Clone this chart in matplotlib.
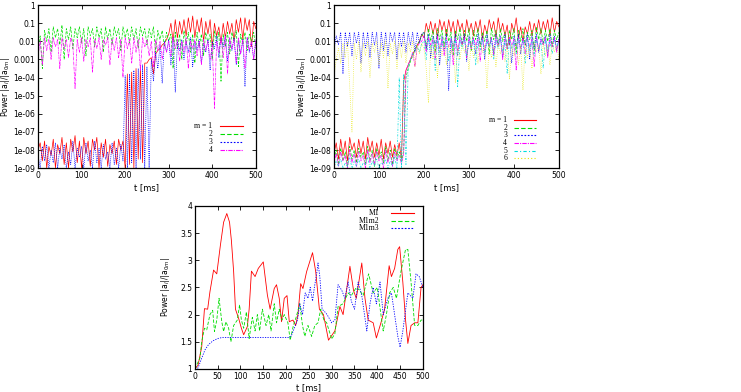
# power of modes vs time - three panels
import numpy as np
import matplotlib
matplotlib.use('Agg')
import matplotlib.pyplot as plt

# time axis (ms) for the log panels, one sample every 5 ms
t_log = np.arange(0, 505, 5)

# left panel, log10 of power for m = 1..4
left_m1 = [-8.0,-7.6,-8.6,-7.5,-9.0,-7.8,-8.3,-7.4,-9.0,-7.7,-8.2,-7.3,-8.8,-7.6,-9.0,-7.4,-8.1,-7.2,-8.7,-7.5,
           -9.0,-7.3,-8.2,-7.5,-8.9,-7.4,-8.0,-7.3,-9.0,-7.6,-8.4,-7.4,-8.9,-7.7,-8.2,-7.5,-8.8,-7.4,-8.0,-7.5,
           -9.0,-3.8,-8.8,-3.7,-9.0,-3.5,-8.5,-3.4,-8.7,-3.2,-3.2,-3.0,-2.9,-3.8,-2.7,-2.5,-2.4,-2.2,-2.1,-1.9,
           -1.6,-1.0,-2.0,-0.8,-1.8,-0.9,-1.6,-0.8,-1.7,-0.7,-1.5,-0.6,-1.8,-0.8,-1.5,-0.7,-2.0,-0.9,-1.6,-0.8,
           -2.3,-1.0,-1.7,-1.2,-2.1,-1.0,-1.8,-0.9,-1.6,-1.0,-2.0,-0.8,-1.5,-0.7,-1.9,-0.7,-1.4,-0.8,-2.3,-0.9,-1.3]
left_m2 = [-2.5,-1.7,-3.5,-1.4,-2.0,-1.3,-2.6,-1.2,-1.8,-1.3,-2.2,-1.1,-3.0,-1.3,-1.9,-1.2,-2.4,-1.3,-1.8,-1.2,
           -2.1,-1.3,-2.8,-1.2,-1.7,-1.3,-2.3,-1.2,-1.8,-1.3,-2.6,-1.2,-1.9,-1.3,-2.2,-1.2,-1.7,-1.3,-2.5,-1.2,
           -1.8,-1.3,-2.1,-1.2,-1.9,-1.3,-2.4,-1.2,-1.7,-1.3,-2.2,-1.3,-1.8,-1.2,-2.6,-1.4,-1.9,-1.4,-2.3,-1.5,
           -2.0,-1.6,-3.5,-1.5,-2.4,-1.6,-3.0,-1.4,-2.2,-1.5,-2.6,-1.6,-3.2,-1.5,-2.3,-1.6,-2.8,-1.5,-2.1,-1.6,
           -3.0,-1.4,-2.0,-1.5,-4.2,-1.6,-2.3,-1.5,-2.7,-1.5,-2.0,-1.4,-3.4,-1.6,-2.2,-1.5,-2.5,-1.6,-2.0,-1.5,-2.4]
left_m3 = [-8.3,-9.0,-7.8,-8.6,-7.7,-9.0,-8.0,-8.7,-7.6,-9.0,-7.9,-8.5,-7.7,-9.0,-8.1,-8.8,-7.5,-9.0,-7.9,-8.4,
           -7.8,-9.0,-7.6,-8.6,-8.0,-9.0,-7.5,-8.7,-7.9,-9.0,-7.7,-8.5,-8.1,-9.0,-7.6,-8.8,-7.9,-9.0,-7.7,-8.6,
           -3.9,-9.0,-3.8,-8.7,-3.6,-9.0,-3.5,-8.5,-3.3,-9.0,-3.4,-9.0,-3.0,-4.2,-2.6,-3.5,-2.2,-4.3,-2.0,-2.6,
           -1.9,-3.3,-1.8,-4.8,-2.0,-2.5,-1.9,-3.0,-2.0,-2.6,-1.8,-3.4,-2.0,-2.5,-1.9,-3.2,-2.1,-2.6,-1.9,-3.6,
           -2.0,-2.4,-1.7,-2.9,-1.8,-2.3,-1.7,-3.1,-1.9,-2.5,-1.8,-3.3,-2.0,-2.7,-1.9,-4.5,-1.8,-2.6,-2.0,-3.0,-1.9]
left_m4 = [-2.8,-2.0,-3.3,-1.8,-2.5,-1.9,-3.0,-1.8,-2.3,-1.9,-3.5,-1.8,-2.4,-1.9,-2.9,-1.8,-2.2,-4.6,-1.9,-2.6,
           -1.8,-3.1,-1.9,-2.3,-1.8,-3.7,-1.9,-2.4,-1.8,-3.0,-1.9,-2.2,-1.8,-3.3,-1.9,-2.5,-1.8,-2.9,-1.9,-4.0,
           -1.8,-2.4,-1.9,-3.2,-1.8,-2.6,-1.9,-3.6,-1.8,-2.3,-1.9,-2.8,-2.0,-3.4,-1.9,-2.5,-2.0,-3.0,-2.1,-2.6,
           -2.0,-2.8,-1.8,-2.4,-1.9,-3.1,-2.0,-2.6,-1.8,-3.5,-2.0,-2.4,-1.9,-2.8,-2.0,-3.3,-1.9,-2.5,-2.0,-3.0,
           -2.2,-5.7,-2.0,-2.6,-1.8,-2.9,-1.7,-3.8,-1.8,-2.4,-1.9,-3.2,-1.8,-2.7,-1.9,-3.5,-1.8,-2.5,-2.0,-3.0,-1.9]

# right panel, log10 of power for m = 1..6
right_m1 = [-8.2,-7.6,-8.5,-7.4,-8.3,-7.5,-8.6,-7.3,-8.0,-7.6,-8.4,-7.4,-8.2,-7.5,-8.5,-7.3,-8.1,-7.5,-8.4,-7.6,
            -8.3,-7.4,-8.5,-7.6,-8.2,-7.5,-8.4,-7.7,-8.3,-7.6,-8.5,-4.2,-3.6,-3.3,-3.0,-2.7,-2.5,-2.2,-2.0,-1.6,
            -1.8,-1.0,-1.5,-0.9,-1.6,-1.0,-1.8,-0.8,-1.4,-0.9,-1.7,-0.8,-1.5,-0.9,-1.8,-0.8,-1.4,-1.0,-1.9,-0.8,
            -1.5,-1.0,-1.7,-0.9,-1.5,-0.8,-1.9,-1.1,-1.6,-0.8,-1.4,-0.9,-1.8,-0.7,-1.5,-1.0,-1.7,-1.1,-2.2,-1.0,
            -1.5,-0.7,-1.8,-1.2,-2.0,-1.2,-1.6,-0.9,-1.7,-1.0,-1.5,-0.8,-1.6,-0.9,-1.4,-0.8,-1.7,-0.7,-1.5,-0.9,-1.2]
right_m2 = [-8.5,-8.0,-8.8,-7.9,-8.6,-8.1,-8.9,-7.8,-8.5,-8.0,-8.7,-7.9,-8.4,-8.1,-8.8,-7.8,-8.6,-8.0,-8.9,-7.9,
            -8.5,-8.1,-8.7,-7.8,-8.6,-8.0,-8.8,-7.9,-8.5,-8.1,-8.7,-8.0,-4.0,-3.5,-3.1,-2.8,-2.5,-2.2,-2.0,-1.7,
            -1.5,-2.4,-1.3,-2.0,-1.4,-2.6,-1.3,-1.9,-1.4,-2.3,-1.3,-2.0,-1.5,-2.8,-1.4,-1.9,-1.3,-2.2,-1.4,-2.0,
            -1.3,-2.5,-1.4,-1.9,-1.3,-2.3,-1.5,-2.0,-1.4,-2.7,-1.3,-1.9,-1.4,-2.2,-1.3,-2.0,-1.5,-2.4,-1.4,-1.9,
            -1.3,-2.6,-1.4,-2.0,-1.3,-2.2,-1.5,-1.9,-1.4,-2.5,-1.2,-1.9,-1.3,-2.1,-1.4,-2.0,-1.3,-2.3,-1.4,-1.9,-1.5]
right_m3 = [-2.5,-1.7,-2.2,-1.5,-3.8,-1.5,-2.3,-1.5,-2.8,-1.5,-2.1,-1.5,-3.2,-1.5,-2.4,-1.5,-2.9,-1.5,-2.2,-1.5,
            -3.5,-1.5,-2.5,-1.5,-2.8,-1.5,-2.0,-1.5,-3.0,-1.5,-2.3,-1.5,-2.6,-1.5,-2.2,-1.5,-2.6,-1.5,-2.1,-1.6,
            -1.5,-2.4,-1.6,-2.9,-1.7,-2.2,-1.6,-3.3,-1.7,-2.5,-1.6,-4.7,-1.8,-2.3,-1.6,-2.8,-1.7,-2.2,-1.6,-3.1,
            -1.7,-2.4,-1.8,-2.7,-1.6,-2.2,-1.7,-3.0,-1.6,-2.3,-1.8,-2.6,-1.6,-2.2,-1.7,-2.9,-1.6,-2.4,-1.8,-3.2,
            -1.7,-2.3,-1.6,-2.7,-1.8,-2.2,-1.6,-3.0,-1.7,-2.4,-1.6,-2.6,-1.8,-2.2,-1.7,-2.8,-1.6,-2.3,-1.7,-2.5,-1.8]
right_m4 = [-8.7,-8.2,-8.9,-8.1,-8.6,-8.3,-9.0,-8.0,-8.7,-8.2,-8.9,-8.1,-8.6,-8.3,-9.0,-8.0,-8.7,-8.2,-8.8,-8.1,
            -8.6,-8.3,-9.0,-8.0,-8.7,-8.2,-8.9,-8.1,-8.6,-8.3,-8.8,-8.2,-3.6,-3.3,-3.0,-2.6,-3.4,-2.3,-2.1,-2.0,
            -1.7,-2.6,-1.8,-2.2,-1.9,-3.0,-1.7,-2.4,-1.9,-2.8,-1.8,-2.3,-1.9,-3.3,-1.8,-2.5,-1.9,-2.2,-1.8,-2.9,
            -1.9,-2.4,-1.8,-2.2,-1.9,-3.1,-1.8,-2.5,-1.9,-2.3,-1.8,-2.8,-1.9,-2.3,-1.8,-3.0,-1.9,-2.4,-1.8,-2.2,
            -1.9,-3.6,-1.8,-2.4,-1.9,-2.7,-1.8,-2.3,-1.9,-3.4,-1.8,-2.5,-1.9,-2.2,-1.8,-2.9,-1.9,-2.3,-1.8,-2.6,-1.9]
right_m5 = [-9.0,-8.6,-8.9,-8.5,-9.0,-8.7,-8.9,-8.4,-9.0,-8.6,-8.9,-8.5,-9.0,-8.7,-8.8,-8.4,-9.0,-8.6,-8.9,-8.5,
            -9.0,-8.7,-8.8,-8.5,-9.0,-8.6,-8.9,-8.4,-9.0,-4.0,-9.0,-3.8,-8.8,-3.4,-3.0,-2.7,-2.5,-2.3,-2.6,-2.1,
            -2.0,-3.0,-1.9,-2.4,-2.0,-3.6,-1.9,-2.6,-2.0,-2.3,-1.9,-3.1,-2.0,-2.5,-1.9,-4.5,-2.0,-2.4,-1.9,-2.8,
            -2.0,-2.3,-1.9,-3.3,-2.0,-2.5,-1.9,-2.7,-2.0,-2.3,-1.9,-3.0,-2.0,-2.4,-1.9,-2.6,-2.0,-3.8,-1.9,-2.4,
            -2.0,-2.7,-1.9,-2.3,-2.0,-3.2,-1.9,-2.5,-2.0,-2.8,-1.9,-2.4,-2.0,-3.5,-1.9,-2.5,-2.0,-2.7,-1.9,-2.3,-2.0]
right_m6 = [-4.0,-3.0,-2.4,-3.2,-2.1,-2.9,-2.0,-4.5,-7.0,-2.1,-3.0,-2.0,-3.7,-2.1,-2.8,-2.0,-4.0,-2.1,-2.6,-2.0,
            -3.3,-2.1,-2.9,-2.0,-4.6,-2.1,-2.7,-2.0,-3.5,-2.1,-2.9,-2.0,-3.2,-2.1,-2.6,-2.0,-3.4,-2.2,-2.7,-2.1,
            -2.4,-3.5,-5.4,-2.2,-3.0,-2.1,-4.0,-2.2,-2.8,-2.1,-3.3,-2.2,-2.7,-2.1,-4.3,-2.2,-3.0,-2.1,-2.6,-2.2,
            -3.6,-2.1,-2.9,-2.2,-3.2,-2.1,-2.6,-2.2,-4.6,-2.1,-2.9,-2.2,-3.4,-2.1,-2.7,-2.2,-3.1,-2.1,-4.1,-2.2,
            -2.8,-2.1,-3.3,-2.2,-4.7,-2.1,-2.9,-2.2,-3.5,-2.1,-2.6,-2.2,-3.8,-2.1,-2.8,-2.2,-3.3,-2.1,-2.6,-2.2,-3.0]

# bottom panel, linear power
t_M1 = [0,7,15,21,28,33,41,48,56,63,70,76,80,85,89,96,102,107,115,119,124,132,139,150,159,165,174,179,185,190,
        196,202,207,215,221,226,232,237,245,258,265,273,282,293,307,318,325,340,348,354,366,373,380,391,398,408,
        416,426,431,438,445,449,456,462,467,474,482,489,496,500]
M1 = [1.0,1.07,1.41,2.11,2.1,2.42,2.82,2.75,3.28,3.7,3.86,3.7,3.37,2.79,2.1,1.93,1.75,1.63,1.78,2.1,
      2.8,2.7,2.85,2.97,2.36,2.1,2.48,2.55,2.3,1.87,2.3,2.35,1.87,1.9,1.8,2.0,2.57,2.48,2.79,3.14,
      2.79,2.1,2.0,1.53,1.7,2.15,2.0,2.89,2.44,2.3,2.95,2.3,1.9,1.85,1.57,1.85,2.1,2.9,2.7,2.85,
      3.2,3.25,2.6,1.9,1.47,1.8,1.85,1.85,2.5,2.55]
t_M1m2 = [0,11,15,21,26,33,39,43,48,53,59,63,68,74,79,85,93,98,102,107,113,119,126,132,137,142,148,156,162,167,
          174,179,185,191,196,204,209,216,222,230,236,241,248,256,263,270,276,283,289,300,307,314,325,336,343,
          354,361,369,381,391,400,408,413,420,427,435,442,452,462,467,474,482,489,496,500]
M1m2 = [1.0,1.2,1.5,1.75,1.72,2.0,2.08,1.69,1.9,2.3,1.87,1.69,1.87,1.75,1.5,1.8,1.9,2.18,1.9,1.75,
        2.05,1.56,1.95,1.7,2.0,1.7,2.1,1.8,2.0,1.7,2.2,1.85,2.1,1.9,2.0,1.85,1.53,1.8,1.95,2.2,
        1.8,1.6,1.8,1.6,1.8,1.85,2.1,1.9,1.85,1.55,1.65,2.15,2.2,2.4,2.35,2.5,2.45,2.35,2.75,2.4,
        2.5,2.0,1.7,2.0,2.4,2.5,2.3,2.8,3.2,3.2,2.6,1.8,1.8,1.9,1.9]
t_M1m3 = [0,7,15,22,30,40,50,60,207,212,218,225,230,236,242,248,253,258,262,267,270,274,279,285,290,300,307,
          314,322,329,336,343,350,358,366,377,384,391,398,406,413,423,431,438,445,450,456,467,478,485,492,500]
M1m3 = [1.0,1.02,1.2,1.35,1.45,1.52,1.56,1.58,1.58,1.62,1.75,1.9,2.2,2.0,2.4,2.3,2.5,2.25,2.5,2.75,
        2.95,2.7,2.1,2.05,2.0,1.85,1.9,2.55,2.45,2.3,2.6,2.25,2.1,2.6,2.35,1.7,2.2,2.5,2.2,2.6,
        2.0,2.3,2.4,2.0,1.6,1.4,1.7,2.4,2.3,2.75,2.7,2.5]

log_ticks = [1e-9,1e-8,1e-7,1e-6,1e-5,1e-4,1e-3,1e-2,1e-1,1]
log_labels = ['1e-09','1e-08','1e-07','1e-06','1e-05','1e-04','0.001','0.01','0.1','1']

colors = ['#ff0000','#00dd00','#0000ff','#ff00ff','#00dddd','#e6e600']
styles = ['-',(0,(4,2)),(0,(1.5,1.5)),(0,(4,1,1,1)),(0,(3,2,1,2)),(0,(1,2))]
ylab = 'Power |a$_l$|/|a$_{0m}$|'

plt.rcParams['font.family'] = 'DejaVu Sans'
plt.rcParams['font.size'] = 6

fig = plt.figure(figsize=(7.41,3.92), dpi=100)
ax1 = fig.add_axes([0.0513,0.571,0.294,0.416])
ax2 = fig.add_axes([0.4507,0.571,0.3036,0.416])
ax3 = fig.add_axes([0.263,0.0587,0.3077,0.416])

def style_axes(ax, ylab_x):
    ax.tick_params(direction='in', top=True, right=True, length=3, width=0.6, labelsize=5.5, pad=2)
    ax.tick_params(which='minor', length=0)
    for s in ax.spines.values():
        s.set_linewidth(0.9)
    ax.set_xlim(0,500)
    ax.set_xlabel('t [ms]', fontsize=6, labelpad=2)
    ax.set_ylabel(ylab, fontsize=5.5)
    ax.yaxis.set_label_coords(ylab_x, 0.5)

def manual_legend(ax, labels, cols, lss, xtext, x0, x1, ys):
    for lab, c, ls, y in zip(labels, cols, lss, ys):
        ax.text(xtext, y, lab, transform=ax.transAxes, ha='right', va='center',
                fontsize=5.5, family='Liberation Serif')
        ax.plot([x0,x1],[y,y], transform=ax.transAxes, color=c, ls=ls, lw=0.8, zorder=5)

# top left panel
left = [left_m1,left_m2,left_m3,left_m4]
for i, s in enumerate(left):
    ax1.plot(t_log, 10.0**np.array(s), color=colors[i], ls=styles[i], lw=0.5)
ax1.set_yscale('log')
ax1.set_ylim(1e-9,1)
ax1.set_yticks(log_ticks)
ax1.set_yticklabels(log_labels)
ax1.set_xticks(range(0,501,100))
style_axes(ax1, -0.12)
manual_legend(ax1, ['m = 1','2','3','4'], colors[:4], styles[:4], 0.80, 0.835, 0.94,
              [0.258,0.209,0.160,0.110])

# top right panel
right = [right_m1,right_m2,right_m3,right_m4,right_m5,right_m6]
for i, s in enumerate(right):
    ax2.plot(t_log, 10.0**np.array(s), color=colors[i], ls=styles[i], lw=0.5)
ax2.set_yscale('log')
ax2.set_ylim(1e-9,1)
ax2.set_yticks(log_ticks)
ax2.set_yticklabels(log_labels)
ax2.set_xticks(range(0,501,100))
style_axes(ax2, -0.115)
manual_legend(ax2, ['m = 1','2','3','4','5','6'], colors, styles, 0.77, 0.80, 0.90,
              [0.294,0.245,0.202,0.153,0.104,0.061])

# bottom panel
ax3.plot(t_M1, M1, color=colors[0], ls='-', lw=0.6)
ax3.plot(t_M1m2, M1m2, color=colors[1], ls=styles[1], lw=0.6)
ax3.plot(t_M1m3, M1m3, color=colors[2], ls=styles[2], lw=0.6)
ax3.set_ylim(1,4)
ax3.set_yticks([1,1.5,2,2.5,3,3.5,4])
ax3.set_yticklabels(['1','1.5','2','2.5','3','3.5','4'])
ax3.set_xticks(range(0,501,50))
style_axes(ax3, -0.1)
manual_legend(ax3, ['M1','M1m2','M1m3'], colors[:3], styles[:3], 0.81, 0.86, 0.96,
              [0.957,0.908,0.865])

fig.savefig('out.png', dpi=100)
